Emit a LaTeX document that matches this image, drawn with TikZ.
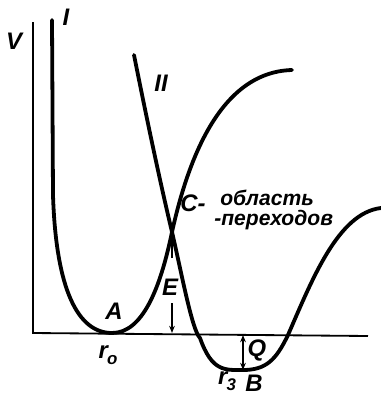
\documentclass[tikz,border=0pt]{standalone}
\usepackage{fontspec}
\setmainfont{Liberation Sans}
\usetikzlibrary{arrows.meta}
\tikzset{
  crv/.style={line width=2.7pt, line cap=round},
  axl/.style={line width=1.3pt},
  dimarr/.style={line width=0.9pt, -{Stealth[length=1.8mm, width=1.4mm]}},
  lbl/.style={font=\fontsize{17}{20}\selectfont\itshape\bfseries, inner sep=0pt},
  txt/.style={font=\fontsize{15}{15}\selectfont\itshape\bfseries, inner sep=0pt, anchor=west},
}
\newcommand{\rsub}[1]{r\kern-0.5pt\raisebox{-0.45ex}{\fontsize{12}{12}\selectfont #1}}

\begin{document}
\begin{tikzpicture}[x=0.025cm, y=-0.025cm]
  \useasboundingbox (0,0) rectangle (381,397);
  % axes
  \coordinate (o) at (33,333);
  \coordinate (vtop) at (33,22);
  \coordinate (xend) at (368,336);
  \draw[axl] (vtop) -- (o) -- (xend);
  % key points
  \coordinate (C) at (172,232);
  \coordinate (A) at (112,333);
  \coordinate (B) at (243,370);
  \coordinate (Efoot) at (172,333);
  \coordinate (Qtop) at (243,335);
  % curve I
  \draw[crv] (52,20) -- (53,195) .. controls (56,290) and (78,333) .. (A)
    .. controls (142,333) and (160,290) .. (C)
    .. controls (188,160) and (220,72) .. (292,70);
  % curve II
  \draw[crv] (134,55) .. controls (150,135) and (162,190) .. (C)
    .. controls (182,275) and (192,330) .. (200,338)
    .. controls (212,372) and (225,370) .. (B)
    .. controls (266,370) and (276,360) .. (288,335)
    .. controls (312,280) and (338,213) .. (381,208);
  % E and Q
  \draw[dimarr] (172,258) -- (C);
  \draw[dimarr] (172,303) -- (Efoot);
  \draw[dimarr, {Stealth[length=1.8mm, width=1.4mm]}-{Stealth[length=1.8mm, width=1.4mm]}] (Qtop) -- (B);
  % labels
  \node[lbl] (lV) at (14,41) {V};
  \node[lbl] (lI) at (66,17) {I};
  \node[lbl] (lII) at (161,83) {II};
  \node[lbl] (lE) at (170,287) {E};
  \node[lbl] (lA) at (114,311) {A};
  \node[lbl] (lQ) at (257,350) {Q};
  \node[lbl] (lB) at (254,383) {B};
  \node[lbl] (lr0) at (108,355) {\rsub{o}};
  \node[lbl] (lr3) at (227,381) {\rsub{3}};
  \node[lbl] (lC) at (193,203) {C-};
  \node[txt] (l1) at (220,198) {область};
  \node[txt] (l2) at (214,220) {-переходов};
\end{tikzpicture}
\end{document}
